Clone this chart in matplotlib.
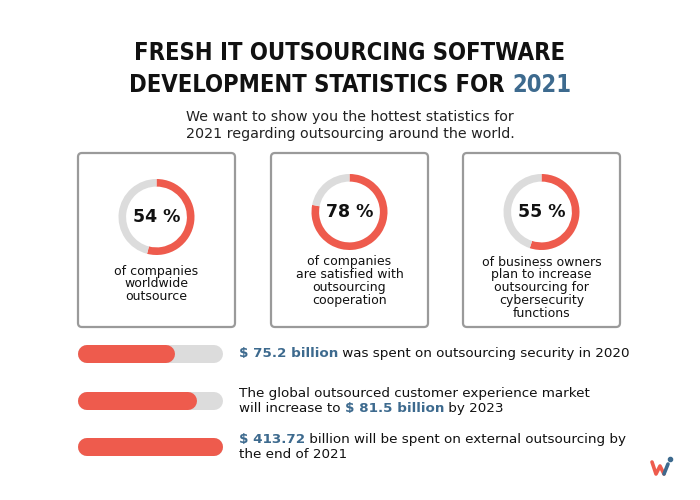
import matplotlib
matplotlib.use('Agg')
import matplotlib.pyplot as plt
from matplotlib.patches import FancyBboxPatch

# ===== data =====
title_lines = ['FRESH IT OUTSOURCING SOFTWARE', 'DEVELOPMENT STATISTICS FOR ']
title_year = '2021'
subtitle = ['We want to show you the hottest statistics for',
            '2021 regarding outsourcing around the world.']

donut_pcts = [54, 78, 55]
donut_labels = [
    ['of companies', 'worldwide', 'outsource'],
    ['of companies', 'are satisfied with', 'outsourcing', 'cooperation'],
    ['of business owners', 'plan to increase', 'outsourcing for', 'cybersecurity', 'functions'],
]

bar_fracs = [0.67, 0.82, 1.0]
# each line: list of (text, highlighted)
bar_texts = [
    [[('$ 75.2 billion', True), (' was spent on outsourcing security in 2020', False)]],
    [[('The global outsourced customer experience market', False)],
     [('will increase to ', False), ('$ 81.5 billion', True), (' by 2023', False)]],
    [[('$ 413.72', True), (' billion will be spent on external outsourcing by', False)],
     [('the end of 2021', False)]],
]

RED = '#ee5b4d'
GREY = '#dcdcdc'
BLUE = '#3d6a8e'
DARK = '#111111'
BODY = 'DejaVu Sans'

W, H = 700, 500
fig = plt.figure(figsize=(7, 5), dpi=100)
ax = fig.add_axes([0, 0, 1, 1])
ax.set_xlim(0, W)
ax.set_ylim(H, 0)
ax.axis('off')

# title
tkw = dict(fontsize=17, fontweight='heavy', fontstretch='condensed',
           family='DejaVu Sans', color=DARK, va='center')
ax.text(350, 53, title_lines[0], ha='center', **tkw)
# second line centred as a whole, year in blue
ghost = ax.text(350, 85, title_lines[1] + title_year, ha='center', alpha=0, **tkw)
l2 = ax.annotate(title_lines[1], xy=(0, 0.5), xycoords=ghost, ha='left', **tkw)
ax.annotate(title_year, xy=(1, 0.5), xycoords=l2, ha='left',
            **{**tkw, 'color': BLUE})

for i, s in enumerate(subtitle):
    ax.text(350, 117 + i * 17, s, ha='center', va='center', fontsize=10.3,
            family=BODY, color='#222222')

# boxes with donuts
box_x = [78, 271, 463]
box_w, box_y, box_h = 157, 153, 174
donut_cy = [217, 212, 212]
label_y0 = [271, 262, 262]
R = 38
for i in range(3):
    ax.add_patch(FancyBboxPatch((box_x[i], box_y), box_w, box_h,
                                boxstyle='round,pad=0,rounding_size=4',
                                fc='white', ec='#9a9a9a', lw=1.6))
    cx = box_x[i] + box_w / 2
    cy = donut_cy[i]
    dax = fig.add_axes([(cx - R) / W, 1 - (cy + R) / H, 2 * R / W, 2 * R / H])
    dax.pie([donut_pcts[i], 100 - donut_pcts[i]], colors=[RED, GREY],
            startangle=90, counterclock=False,
            wedgeprops=dict(width=0.2, linewidth=0))
    dax.set_xlim(-1, 1)
    dax.set_ylim(-1, 1)
    dax.set_aspect('equal')
    dax.axis('off')
    ax.text(cx, cy, f'{donut_pcts[i]} %', ha='center', va='center',
            fontsize=12.5, fontweight='bold', family=BODY, color=DARK)
    for j, s in enumerate(donut_labels[i]):
        ax.text(cx, label_y0[i] + j * 12.8, s, ha='center', va='center',
                fontsize=9, family=BODY, color=DARK)

# progress bars
bar_x0, bar_w, bar_h = 78, 145, 18
bar_y = [354, 401, 447]
text_y0 = [354, 394, 440]
cap_pts = bar_h * 72 / 100
for i, f in enumerate(bar_fracs):
    y = bar_y[i]
    r = bar_h / 2
    ax.plot([bar_x0 + r, bar_x0 + bar_w - r], [y, y], color=GREY, lw=cap_pts,
            solid_capstyle='round')
    ax.plot([bar_x0 + r, bar_x0 + f * bar_w - r], [y, y], color=RED, lw=cap_pts,
            solid_capstyle='round')
    for j, line in enumerate(bar_texts[i]):
        prev = None
        for seg, hl in line:
            kw = dict(fontsize=9.7, family=BODY, va='center',
                      color=BLUE if hl else DARK,
                      fontweight='bold' if hl else 'normal')
            if prev is None:
                prev = ax.text(239, text_y0[i] + j * 14.5, seg, ha='left', **kw)
            else:
                prev = ax.annotate(seg, xy=(1, 0.5), xycoords=prev, ha='left', **kw)

# logo
ax.plot([652, 656, 660, 664], [462, 474, 466, 474], color=RED, lw=2.6,
        solid_capstyle='round', solid_joinstyle='round')
ax.plot([664, 668], [474, 464], color=BLUE, lw=2.6, solid_capstyle='round')
ax.plot([670], [459], 'o', color=BLUE, ms=3)

fig.savefig('out.png', dpi=100, facecolor='white')
